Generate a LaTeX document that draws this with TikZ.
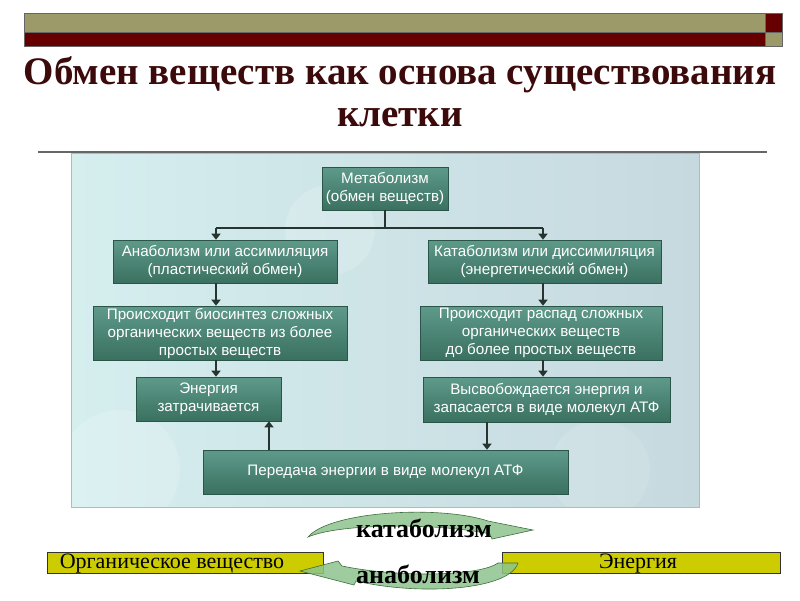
\documentclass[tikz,border=0pt]{standalone}
\usepackage{fontspec}
\setmainfont{Liberation Serif}
\newfontfamily\boxfont{Liberation Sans}
\usetikzlibrary{arrows.meta,shadows}
\definecolor{barolive}{HTML}{9C9A68}
\definecolor{barred}{HTML}{660000}
\definecolor{titlecol}{HTML}{3C0A0A}
\definecolor{tealtop}{HTML}{5E9A8A}
\definecolor{tealbot}{HTML}{3A7060}
\definecolor{tealdraw}{HTML}{2C5549}
\definecolor{arrcol}{HTML}{26352F}
\definecolor{yelbox}{HTML}{CCCC00}
\definecolor{grfill}{HTML}{8EC48E}
\definecolor{grdraw}{HTML}{3E6E3E}
\definecolor{panelA}{HTML}{D5EEEE}
\definecolor{panelB}{HTML}{C6D9DF}
\definecolor{panelborder}{HTML}{BDBD92}
\tikzset{
  tbox/.style={rectangle, draw=tealdraw, line width=0.6pt, top color=tealtop, bottom color=tealbot,
    text=white, font=\boxfont\fontsize{15.2}{18}\selectfont, align=center, inner sep=1pt,
    drop shadow={shadow xshift=1.2pt, shadow yshift=-1.2pt, fill=black!70, opacity=0.8}},
  arr/.style={draw=arrcol, line width=1.8pt, -{Triangle[width=9pt,length=6pt]}},
  ln/.style={draw=arrcol, line width=1.8pt},
  ybox/.style={rectangle, draw=black!80, line width=0.5pt, fill=yelbox, inner sep=0pt},
  ytext/.style={font=\fontsize{22}{24}\selectfont, inner sep=0pt},
  garrow/.style={fill=grfill, fill opacity=0.85, draw=grdraw, line width=0.6pt},
  gtext/.style={font=\bfseries\fontsize{26}{28}\selectfont, inner sep=0pt, anchor=base}
}
\begin{document}
\begin{tikzpicture}[x=1pt,y=-1pt]
\useasboundingbox (0,0) rectangle (800,600);
\fill[white] (0,0) rectangle (800,600);
% top bars
\filldraw[fill=barolive, draw=black!60, line width=0.4pt] (24,13) rectangle (765,32);
\filldraw[fill=barred, draw=black!60, line width=0.4pt] (24,32) rectangle (765,46);
\filldraw[fill=barred, draw=black!60, line width=0.4pt] (765,13) rectangle (782,32);
\filldraw[fill=barolive, draw=black!60, line width=0.4pt] (765,32) rectangle (782,46);
% title
\node[font=\bfseries\fontsize{39}{43}\selectfont, text=titlecol, inner sep=0pt] (t1) at (400,75) {Обмен веществ как основа существования};
\node[font=\bfseries\fontsize{39}{43}\selectfont, text=titlecol, inner sep=0pt] (t2) at (400,118) {клетки};
\draw[gray!80!black, line width=1.4pt] (38,152) -- (767,152);
% panel
\shade[left color=panelA, right color=panelB] (71,153) rectangle (699,507);
\fill[white, opacity=0.18] (120,470) circle (60);
\fill[white, opacity=0.15] (330,230) circle (45);
\fill[white, opacity=0.12] (600,470) circle (50);
\draw[draw=panelborder, line width=1pt] (71,153) rectangle (699,507);
% boxes
\node[tbox, minimum width=126pt, minimum height=43pt] (meta) at (385,188.5) {Метаболизм\\(обмен веществ)};
\node[tbox, minimum width=224pt, minimum height=43pt] (anab) at (225,261.5) {Анаболизм или ассимиляция\\(пластический обмен)};
\node[tbox, minimum width=233pt, minimum height=43pt] (kat) at (544.5,261.5) {Катаболизм или диссимиляция\\(энергетический обмен)};
\node[tbox, minimum width=254pt, minimum height=54pt] (bio) at (220,333) {Происходит биосинтез сложных\\органических веществ из более\\простых веществ};
\node[tbox, minimum width=242pt, minimum height=54pt] (ras) at (541,333) {Происходит распад сложных\\органических веществ\\до более простых веществ};
\node[tbox, minimum width=145pt, minimum height=44pt] (en) at (208.5,399) {Энергия\\затрачивается};
\node[tbox, minimum width=247pt, minimum height=45pt] (vys) at (546.5,399.5) {Высвобождается энергия и\\запасается в виде молекул АТФ};
\node[tbox, minimum width=365pt, minimum height=44pt] (per) at (385.5,472) {Передача энергии в виде молекул АТФ};
% connectors
\coordinate (j) at (385,228);
\coordinate (jl) at (216,228);
\coordinate (jr) at (543,228);
\coordinate (cv) at (487,0);
\coordinate (ce) at (269,0);
\draw[ln] (meta.south) -- (j);
\draw[ln] (jl) -- (jr);
\draw[arr] (jl) -- (anab.north -| jl);
\draw[arr] (jr) -- (kat.north -| jr);
\draw[arr] (anab.south -| jl) -- (bio.north -| jl);
\draw[arr] (kat.south -| jr) -- (ras.north -| jr);
\draw[arr] (bio.south -| jl) -- (en.north -| jl);
\draw[arr] (ras.south -| jr) -- (vys.north -| jr);
\draw[arr] (vys.south -| cv) -- (per.north -| cv);
\draw[arr] (per.north -| ce) -- (en.south -| ce);
% bottom boxes
\node[ybox, minimum width=276pt, minimum height=21pt] (org) at (185,562.5) {};
\node[ytext] (orgt) at (172,564) {Органическое вещество};
\node[ybox, minimum width=278pt, minimum height=21pt] (ener) at (641,562.5) {};
\node[ytext] (enert) at (638,564) {Энергия};
% curved arrows
\path[garrow] (308,537) .. controls (330,511) and (440,505) .. (488,521) -- (533,530) -- (492,539) -- (490,534) .. controls (440,523) and (340,523) .. (308,537) -- cycle;
\node[gtext] (kt) at (424,537) {катаболизм};
\path[garrow] (518,563) .. controls (510,590) and (420,596) .. (356,581) -- (354,585) -- (300,571) -- (338,561) -- (342,566) .. controls (400,578) and (480,576) .. (498,563) -- cycle;
\node[gtext] (an) at (418,583) {анаболизм};
\end{tikzpicture}
\end{document}
